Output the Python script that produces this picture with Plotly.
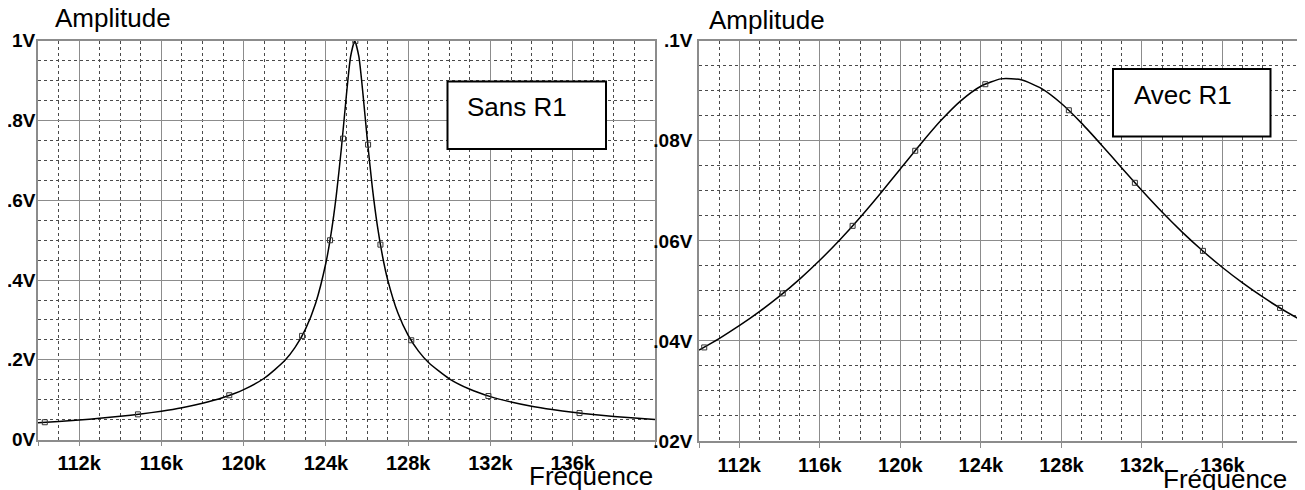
import plotly.graph_objects as go

# ---------------- data ----------------
freq_k = [110, 111, 112, 113, 114, 115, 116, 117, 118, 119, 120, 121, 122, 122.5, 123, 123.5,
          124, 124.25, 124.5, 124.75, 125, 125.2, 125.4, 125.6, 125.8, 126, 126.25, 126.5,
          126.75, 127, 127.5, 128, 128.5, 129, 130, 131, 132, 133, 134, 135, 136, 137, 138,
          139, 140]
sans_r1 = [0.0422, 0.0454, 0.0490, 0.0532, 0.0581, 0.0640, 0.0711, 0.0798, 0.0909, 0.1054,
           0.1252, 0.1537, 0.1981, 0.2310, 0.2763, 0.3419, 0.4435, 0.5164, 0.6107, 0.7303,
           0.8669, 0.9611, 1.0000, 0.9612, 0.8675, 0.7584, 0.6352, 0.5367, 0.4605, 0.4013,
           0.3172, 0.2613, 0.2218, 0.1926, 0.1524, 0.1261, 0.1076, 0.0940, 0.0834, 0.0750,
           0.0682, 0.0626, 0.0578, 0.0538, 0.0503]
sans_mark_f = [110.33, 114.86, 119.3, 122.84, 124.2, 124.83, 125.43, 126.05, 126.65, 128.15, 131.9, 136.33]
sans_mark_v = [0.0433, 0.0631, 0.111, 0.260, 0.500, 0.755, 1.0, 0.740, 0.489, 0.249, 0.109, 0.0663]

freq2_k = list(range(110, 141))
avec_r1 = [0.03817, 0.04048, 0.04304, 0.04585, 0.04894, 0.05236, 0.05612, 0.06023, 0.06468,
           0.06942, 0.07437, 0.07931, 0.08398, 0.08798, 0.09090, 0.09237, 0.09220, 0.09047,
           0.08745, 0.08353, 0.07913, 0.07456, 0.07006, 0.06576, 0.06175, 0.05806, 0.05467,
           0.05159, 0.04878, 0.04623, 0.04391]
avec_mark_f = [110.26, 114.16, 117.63, 120.74, 124.22, 128.37, 131.65, 135.03, 138.86]
avec_mark_v = [0.0387, 0.0495, 0.0630, 0.0780, 0.0913, 0.0861, 0.0716, 0.0580, 0.0466]

x_tickvals_k = [110, 112, 116, 120, 124, 128, 132, 136, 140]
x_ticktext = ["", "112k", "116k", "120k", "124k", "128k", "132k", "136k", ""]
y1_tickvals = [0, 0.2, 0.4, 0.6, 0.8, 1.0]
y1_ticktext = ["0V", ".2V", ".4V", ".6V", ".8V", "1V"]
y2_tickvals = [0.02, 0.04, 0.06, 0.08, 0.10]
y2_ticktext = [".02V", ".04V", ".06V", ".08V", ".1V"]

# ---------------- figure ----------------
# the page body has an 8px margin, so the figure is placed at (8, 8) in the window
OFF = 8
W, H = 1305 - OFF, 490 - OFF


def px(x):
    return (x - OFF) / W


def py(y):
    return 1 - (y - OFF) / H


fig = go.Figure()

line_style = dict(color="black", width=1.5, shape="spline", smoothing=0.6)
mark_style = dict(symbol="square-open", size=5, color="#333333", line=dict(width=1))

fig.add_trace(go.Scatter(x=[f * 1000 for f in freq_k], y=sans_r1, mode="lines",
                         line=line_style, xaxis="x", yaxis="y", hoverinfo="skip"))
fig.add_trace(go.Scatter(x=[f * 1000 for f in sans_mark_f], y=sans_mark_v, mode="markers",
                         marker=mark_style, xaxis="x", yaxis="y"))
fig.add_trace(go.Scatter(x=[f * 1000 for f in freq2_k], y=avec_r1, mode="lines",
                         line=line_style, xaxis="x2", yaxis="y2", hoverinfo="skip"))
fig.add_trace(go.Scatter(x=[f * 1000 for f in avec_mark_f], y=avec_mark_v, mode="markers",
                         marker=mark_style, xaxis="x2", yaxis="y2"))

major = "#8c8c8c"
minor = "#4a4a4a"
dash = "3px,3px"
xtickfont = dict(family="Liberation Sans, Arial", size=20, color="black", weight="bold")
ytickfont = dict(family="Liberation Sans, Arial", size=19, color="black", weight="bold")


def xaxis(domain, anchor):
    return dict(domain=domain, anchor=anchor, range=[110000, 140000], automargin=False,
                tickvals=[v * 1000 for v in x_tickvals_k], ticktext=x_ticktext,
                showgrid=True, gridcolor=major, gridwidth=1,
                minor=dict(dtick=1000, tick0=0, showgrid=True, gridcolor=minor,
                           griddash=dash, gridwidth=1, ticks=""),
                showline=True, linecolor=major, linewidth=1.5, mirror=True,
                ticks="outside", ticklen=5, tickcolor=major, tickwidth=1,
                tickfont=xtickfont, zeroline=False, fixedrange=True)


def yaxis(domain, anchor, rng, vals, text, mdt, show_labels=True):
    return dict(domain=domain, anchor=anchor, range=rng, tickvals=vals, ticktext=text,
                automargin=False, showticklabels=show_labels,
                showgrid=True, gridcolor=major, gridwidth=1,
                minor=dict(dtick=mdt, tick0=0, showgrid=True, gridcolor=minor,
                           griddash=dash, gridwidth=1, ticks=""),
                showline=True, linecolor=major, linewidth=1.5, mirror=True,
                ticks="", ticklabelstandoff=1,
                tickfont=ytickfont, zeroline=False, fixedrange=True)


fig.update_layout(
    width=W, height=H, margin=dict(l=0, r=0, t=0, b=0, autoexpand=False),
    paper_bgcolor="white", plot_bgcolor="white", showlegend=False,
    xaxis=xaxis([px(38), px(655)], "y"),
    yaxis=yaxis([py(439.5), py(41)], "x", [0, 1.0], y1_tickvals, y1_ticktext, 0.05,
                show_labels=False),
    xaxis2=xaxis([px(699), px(1303)], "y2"),
    yaxis2=yaxis([py(441), py(40.7)], "x2", [0.02, 0.10], y2_tickvals, y2_ticktext, 0.005),
    font=dict(family="Liberation Sans, Arial", color="black"),
)

# left panel y tick labels, placed on the y axis values (kept inside the page edge)
for v, t in zip(y1_tickvals, y1_ticktext):
    fig.add_annotation(text=t, x=px(37), xref="paper", y=v, yref="y",
                       xanchor="right", yanchor="middle", showarrow=False,
                       font=ytickfont, borderpad=0)

txt = dict(family="Liberation Sans, Arial", size=26, color="black")
# Axis titles
fig.add_annotation(text="Amplitude", x=px(53), y=py(18), xref="paper", yref="paper",
                   xanchor="left", yanchor="middle", showarrow=False, font=txt)
fig.add_annotation(text="Amplitude", x=px(707), y=py(20), xref="paper", yref="paper",
                   xanchor="left", yanchor="middle", showarrow=False, font=txt)
fig.add_annotation(text="Fréquence", x=px(655), y=py(476), xref="paper", yref="paper",
                   xanchor="right", yanchor="middle", showarrow=False, font=txt)
fig.add_annotation(text="Fréquence", x=px(1289), y=py(479), xref="paper", yref="paper",
                   xanchor="right", yanchor="middle", showarrow=False, font=txt)

# Boxes with labels
fig.add_shape(type="rect", xref="paper", yref="paper",
              x0=px(447.5), x1=px(606), y0=py(149), y1=py(81.5),
              line=dict(color="black", width=2), fillcolor="white", layer="above")
fig.add_annotation(text="Sans R1", x=px(517), y=py(107), xref="paper", yref="paper",
                   xanchor="center", yanchor="middle", showarrow=False, font=dict(txt, size=26))
fig.add_shape(type="rect", xref="paper", yref="paper",
              x0=px(1113), x1=px(1270.5), y0=py(136.5), y1=py(69),
              line=dict(color="black", width=2), fillcolor="white", layer="above")
fig.add_annotation(text="Avec R1", x=px(1183), y=py(95), xref="paper", yref="paper",
                   xanchor="center", yanchor="middle", showarrow=False, font=dict(txt, size=26))

fig.write_html("out.html")
